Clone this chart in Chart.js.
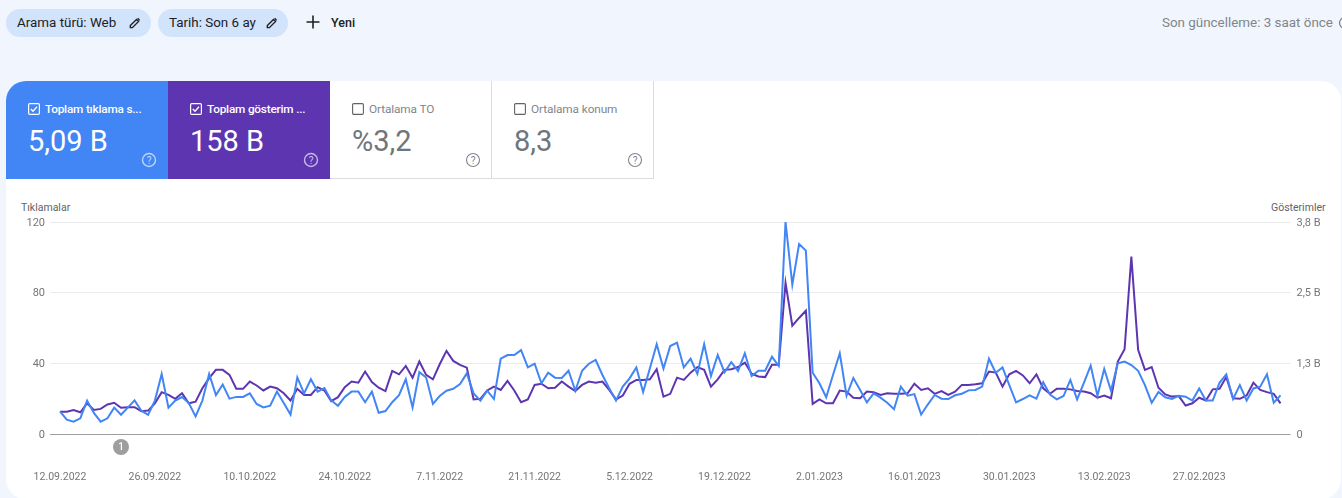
<!DOCTYPE html>
<html lang="tr">
<head>
<meta charset="utf-8">
<title>Performans</title>
<script src="https://cdn.jsdelivr.net/npm/chart.js@4"></script>
<style>
html, body { margin: 0; padding: 0; width: 1342px; height: 498px; overflow: hidden; background: #f1f5fe; font-family: Roboto, sans-serif; }
.abs { position: absolute; white-space: nowrap; }
.chip { position: absolute; top: 9px; height: 28px; border-radius: 14px; background: #d2e3fc; color: #202124; font-size: 13.4px; font-weight: 400; line-height: 28px; padding-left: 11px; box-sizing: border-box; }
.chip svg { position: absolute; top: 7px; }
#card { position: absolute; left: 6px; top: 81px; width: 1335px; height: 418px; background: #fff; border-radius: 20px; }
.tab { position: absolute; top: 81px; width: 162px; height: 98px; box-sizing: border-box; color: #fff; }
.tab.off { color: #70757a; background: #fff; border-right: 1px solid #dadce0; border-bottom: 1px solid #dadce0; }
.tab .name { position: absolute; left: 39px; top: 21px; font-size: 11.8px; font-weight: 500; letter-spacing: -.2px; white-space: nowrap; }
.tab.off .name { left: 39px; font-weight: 400; color: #80868b; letter-spacing: -.1px; }
.tab .val { position: absolute; left: 22px; top: 42px; font-size: 29px; line-height: 36px; }
.tab .box { position: absolute; left: 22px; top: 22px; }
.tab .help { position: absolute; left: 135px; top: 71px; }
.axis-name { position: absolute; top: 201px; font-size: 10.5px; color: #5f6368; white-space: nowrap; }
#wrap { position: absolute; left: 6px; top: 190px; width: 1332px; height: 298px; }
</style>
</head>
<body>
<div class="chip" style="left:6px;width:145px">Arama türü: Web
  <svg style="left:122px" width="14" height="14" viewBox="0 0 24 24"><path fill="none" stroke="#202124" stroke-width="2.4" d="M4 16.5V20h3.5L18 9.5 14.500 6 4 16.500zM16.500 4l3.500 3.500"/></svg>
</div>
<div class="chip" style="left:158px;width:130px">Tarih: Son 6 ay
  <svg style="left:107px" width="14" height="14" viewBox="0 0 24 24"><path fill="none" stroke="#202124" stroke-width="2.4" d="M4 16.5V20h3.5L18 9.5 14.500 6 4 16.500zM16.500 4l3.500 3.500"/></svg>
</div>
<svg class="abs" style="left:304px;top:13px" width="18" height="18" viewBox="0 0 18 18"><path d="M9 2.500v13M2.500 9h13" stroke="#202124" stroke-width="1.6"/></svg>
<div class="abs" style="left:331px;top:15px;font-size:12.5px;font-weight:500;color:#202124">Yeni</div>
<div class="abs" style="left:1162px;top:15px;font-size:13.4px;color:#80868b">Son güncelleme: 3 saat önce</div>
<svg class="abs" style="left:1338px;top:16px" width="4" height="14"><circle cx="7" cy="7" r="5.5" fill="none" stroke="#80868b" stroke-width="1.3"/></svg>

<div id="card"></div>

<div class="tab" style="left:6px;background:#4285f4;border-top-left-radius:20px">
  <svg class="box" width="12" height="12" viewBox="0 0 12 12"><rect x=".6" y=".6" width="10.8" height="10.8" rx="1.2" fill="none" stroke="#fff" stroke-width="1.2"/><path d="M2.8 6l2.2 2.2 4-4.4" fill="none" stroke="#fff" stroke-width="1.3"/></svg>
  <div class="name">Toplam tıklama s...</div>
  <div class="val">5,09 B</div>
  <svg class="help" width="16" height="16" viewBox="0 0 16 16"><circle cx="8" cy="8" r="6.500" fill="none" stroke="#fff" stroke-opacity=".65" stroke-width="1.4"/><text x="8" y="11.500" text-anchor="middle" font-size="10" fill="#fff" fill-opacity=".7">?</text></svg>
</div>
<div class="tab" style="left:168px;background:#5e35b1">
  <svg class="box" width="12" height="12" viewBox="0 0 12 12"><rect x=".6" y=".6" width="10.8" height="10.8" rx="1.2" fill="none" stroke="#fff" stroke-width="1.2"/><path d="M2.8 6l2.2 2.2 4-4.4" fill="none" stroke="#fff" stroke-width="1.3"/></svg>
  <div class="name">Toplam gösterim ...</div>
  <div class="val">158 B</div>
  <svg class="help" width="16" height="16" viewBox="0 0 16 16"><circle cx="8" cy="8" r="6.500" fill="none" stroke="#fff" stroke-opacity=".65" stroke-width="1.4"/><text x="8" y="11.500" text-anchor="middle" font-size="10" fill="#fff" fill-opacity=".7">?</text></svg>
</div>
<div class="tab off" style="left:330px">
  <svg class="box" width="12" height="12" viewBox="0 0 12 12"><rect x=".6" y=".6" width="10.8" height="10.8" rx="1.2" fill="none" stroke="#5f6368" stroke-width="1.1"/></svg>
  <div class="name">Ortalama TO</div>
  <div class="val">%3,2</div>
  <svg class="help" width="16" height="16" viewBox="0 0 16 16"><circle cx="8" cy="8" r="6.500" fill="none" stroke="#80868b" stroke-width="1.1"/><text x="8" y="11.500" text-anchor="middle" font-size="10" fill="#80868b">?</text></svg>
</div>
<div class="tab off" style="left:492px">
  <svg class="box" width="12" height="12" viewBox="0 0 12 12"><rect x=".6" y=".6" width="10.8" height="10.8" rx="1.2" fill="none" stroke="#5f6368" stroke-width="1.1"/></svg>
  <div class="name">Ortalama konum</div>
  <div class="val">8,3</div>
  <svg class="help" width="16" height="16" viewBox="0 0 16 16"><circle cx="8" cy="8" r="6.500" fill="none" stroke="#80868b" stroke-width="1.1"/><text x="8" y="11.500" text-anchor="middle" font-size="10" fill="#80868b">?</text></svg>
</div>

<div class="axis-name" style="left:21px">Tıklamalar</div>
<div class="axis-name" style="left:1271px">Gösterimler</div>
<div id="wrap"><canvas id="chart"></canvas></div>

<script>
// one value per day, 12.09.2022 -> 11.03.2023
const clicks = [
    12.8,8.1,7,8.9,18.9,11.9,7,8.9,14.9,10.9,
    14.9,19,13.2,10.9,18.9,34,14.9,18.9,20.9,17.5,
    10,18.9,34,22,28,20,21,21,23,17,
    15,16,24,17.5,11,32,23,31,24,26,
    19,16,21,24,24,18,24,12,13,18,
    22,31,15,35,32,17,21.5,24.5,25.6,28.3,
    34.3,23,18.9,24.5,19.8,42.6,44.7,44.7,47.5,37.7,
    39.8,28.7,34.7,31.9,31.7,35.8,24.5,35.8,39.8,41.9,
    33.4,25.9,18.9,26.8,31.5,37.7,23.8,37.2,50.8,37,
    49.8,51.7,37.7,42.6,34,50.8,32.8,44.7,34.9,40.7,
    35.7,45.7,32.8,35.8,35.8,43.7,38.5,120,84.5,107.5,
    103.8,34.7,28.7,20.8,33.4,45.7,21.7,31.7,24.9,17.9,
    23,20.6,17.7,14,26.8,21.7,22.6,11,16.8,22.1,
    20,19.8,21.9,22.8,24.7,24.9,26.8,42.6,34.7,37.7,
    27.7,17.9,19.8,21.9,20,29.2,22.3,19.6,21.5,30.6,
    19.6,29,38.7,21.7,36.8,24.5,40,41,39,35.8,
    27.7,17.7,23.8,20.8,19.8,21.7,21.1,18.9,25.7,18.9,
    18.9,29,33.8,19.8,27.7,18.9,25.8,26.8,33.8,17.7,21.9
];
const impressions = [
    .40,.40,.43,.39,.55,.43,.45,.53,.56,.47,
    .48,.48,.41,.42,.55,.75,.70,.63,.73,.55,
    .58,.82,1.00,1.15,1.15,1.06,.81,.81,.94,.87,
    .78,.85,.82,.73,.60,.81,.70,.70,.84,.78,
    .59,.66,.84,.94,.92,1.12,.93,.83,.77,1.13,
    1.07,1.22,1.01,1.30,1.06,.98,1.25,1.49,1.31,1.24,
    1.19,.62,.63,.78,.85,.79,.95,.78,.57,.62,
    .88,.90,.82,.83,.94,.85,.77,.88,.94,.92,
    .94,.79,.62,.69,.90,.97,.97,.98,1.16,.67,
    .72,1.01,.97,1.10,1.20,1.15,.85,.98,1.15,1.16,
    1.20,1.28,1.08,1.03,1.02,1.24,1.24,2.71,1.94,2.08,
    2.21,.54,.62,.55,.55,.78,.76,.65,.64,.76,
    .75,.70,.73,.72,.72,.73,.90,.79,.82,.72,
    .77,.70,.76,.88,.88,.89,.91,1.12,1.10,.85,
    1.07,1.13,1.05,.91,1.07,.82,.72,.81,.81,.80,
    .77,.76,.73,.65,.69,.64,1.30,1.52,3.18,1.51,
    1.15,1.20,.83,.71,.67,.68,.51,.55,.65,.60,
    .80,.81,1.02,.64,.63,.69,.92,.79,.75,.72,.55
];
const dateTicks = ['12.09.2022','26.09.2022','10.10.2022','24.10.2022','7.11.2022','21.11.2022','5.12.2022',
    '19.12.2022','2.01.2023','16.01.2023','30.01.2023','13.02.2023','27.02.2023'];
const dateStep = 14;
const leftTicks = [0, 40, 80, 120];
const rightTicks = [0, 1.2667, 2.5333, 3.8];
const rightTickLabels = ['0', '1,3 B', '2,5 B', '3,8 B'];
const annotationDay = 9;

const tickColor = '#757575';
const tickFont = { family: 'Roboto', size: 10.5 };

// small grey "1" badge under the axis
const badgePlugin = {
    id: 'badge',
    afterDraw(chart) {
        const ctx = chart.ctx;
        const x = chart.scales.x.getPixelForValue(annotationDay);
        const y = chart.scales.x.top + 13;
        ctx.save();
        ctx.beginPath();
        ctx.arc(x, y, 8, 0, Math.PI * 2);
        ctx.fillStyle = '#9e9e9e';
        ctx.fill();
        ctx.fillStyle = '#fff';
        ctx.font = '500 10px Roboto';
        ctx.textAlign = 'center';
        ctx.textBaseline = 'middle';
        ctx.fillText('1', x, y + 0.5);
        ctx.restore();
    }
};

function toPoints(values) {
    return values.map((v, i) => ({ x: i, y: v }));
}

new Chart(document.getElementById('chart').getContext('2d'), {
    type: 'line',
    plugins: [badgePlugin],
    data: {
        datasets: [
            { label: 'Tıklamalar', data: toPoints(clicks), yAxisID: 'y', borderColor: '#4285f4', borderWidth: 2, pointRadius: 0, tension: 0 },
            { label: 'Gösterimler', data: toPoints(impressions), yAxisID: 'y1', borderColor: '#5e35b1', borderWidth: 2, pointRadius: 0, tension: 0 }
        ]
    },
    options: {
        responsive: true,
        maintainAspectRatio: false,
        animation: false,
        layout: { padding: { top: 32, left: 0, right: 0, bottom: 0 } },
        plugins: { legend: { display: false }, tooltip: { enabled: false } },
        scales: {
            x: {
                type: 'linear',
                bounds: 'data',
                min: -1.47,
                max: 181.47,
                afterBuildTicks(scale) {
                    scale.ticks = dateTicks.map((_, i) => ({ value: i * dateStep }));
                },
                afterFit(scale) {
                    scale.height = 54;
                    // first label would otherwise push the plot area to the right
                    scale.paddingLeft = 0;
                    scale.paddingRight = 0;
                },
                border: { display: false },
                grid: { display: false },
                ticks: {
                    autoSkip: false,
                    maxRotation: 0,
                    padding: 29,
                    color: tickColor,
                    font: tickFont,
                    callback: v => dateTicks[v / dateStep]
                }
            },
            y: {
                position: 'left',
                min: 0,
                max: 120,
                afterBuildTicks(scale) {
                    scale.ticks = leftTicks.map(v => ({ value: v }));
                },
                afterFit(scale) { scale.width = 44; },
                border: { display: false },
                grid: {
                    drawTicks: false,
                    color: c => c.tick.value === 0 ? '#9e9e9e' : '#ebebeb'
                },
                ticks: { padding: 5, labelOffset: 1, color: tickColor, font: { family: 'Roboto', size: 11 } }
            },
            y1: {
                position: 'right',
                min: 0,
                max: 3.8,
                afterBuildTicks(scale) {
                    scale.ticks = rightTicks.map(v => ({ value: v }));
                },
                afterFit(scale) { scale.width = 47.5; },
                border: { display: false },
                grid: { display: false, drawTicks: false },
                ticks: {
                    padding: 6,
                    labelOffset: 1,
                    color: tickColor,
                    font: { family: 'Roboto', size: 11 },
                    callback: v => rightTickLabels[rightTicks.indexOf(v)]
                }
            }
        }
    }
});
</script>
</body>
</html>
